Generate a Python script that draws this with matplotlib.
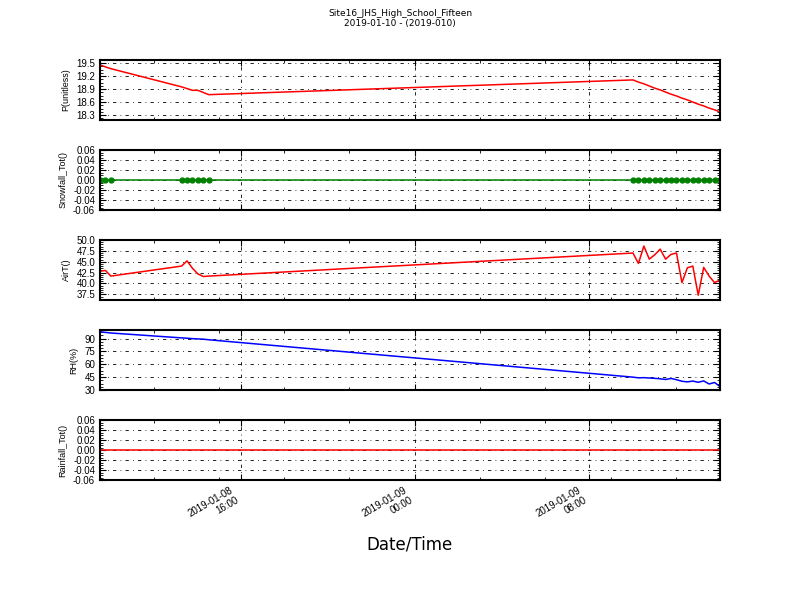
import matplotlib
matplotlib.use("Agg")
import matplotlib.pyplot as plt
import matplotlib.dates as mdates
from matplotlib.ticker import AutoMinorLocator, FormatStrFormatter
import pandas as pd

# sample times (15 min records, three bursts)
times = pd.to_datetime([
    "2019-01-08 09:32", "2019-01-08 09:47", "2019-01-08 10:02",
    "2019-01-08 13:17", "2019-01-08 13:32", "2019-01-08 13:47",
    "2019-01-08 14:02", "2019-01-08 14:17", "2019-01-08 14:32",
    "2019-01-09 10:02", "2019-01-09 10:17", "2019-01-09 10:32",
    "2019-01-09 10:47", "2019-01-09 11:02", "2019-01-09 11:17",
    "2019-01-09 11:32", "2019-01-09 11:47", "2019-01-09 12:02",
    "2019-01-09 12:17", "2019-01-09 12:32", "2019-01-09 12:47",
    "2019-01-09 13:02", "2019-01-09 13:17", "2019-01-09 13:32",
    "2019-01-09 13:47", "2019-01-09 14:02",
])

p_unitless = [19.46, 19.41, 19.37,
              18.95, 18.91, 18.87, 18.87, 18.82, 18.77,
              19.11, 19.06, 19.02, 18.97, 18.92, 18.88, 18.83, 18.78,
              18.74, 18.69, 18.65, 18.60, 18.55, 18.51, 18.46, 18.42, 18.37]
snowfall_tot = [0.0] * 26
air_t = [42.8, 43.0, 41.7,
         44.0, 45.2, 43.5, 42.2, 41.6, 41.7,
         47.0, 44.6, 48.6, 45.6, 46.6, 47.9, 45.6, 46.7,
         47.0, 40.2, 43.6, 44.0, 37.3, 43.7, 41.7, 40.2, 40.8]
rh = [98.0, 97.2, 96.5,
      90.8, 90.4, 89.9, 89.6, 89.3, 88.6,
      45.0, 44.2, 44.4, 44.0, 43.6, 43.1, 42.3, 43.5,
      42.0, 40.2, 39.5, 40.4, 39.0, 40.6, 37.0, 38.8, 34.0]
rainfall_tot = [0.0] * 26

plt.rcParams['font.family'] = ['Liberation Sans', 'DejaVu Sans']
plt.rcParams['axes.unicode_minus'] = False

fig, axes = plt.subplots(5, 1, sharex=True, figsize=(8, 6), dpi=100)
fig.subplots_adjust(left=0.125, right=0.9, top=0.9, bottom=0.2, hspace=0.5)

panels = [
    (p_unitless, "r-", "P(unitless)", (18.185, 19.57), [18.3, 18.6, 18.9, 19.2, 19.5], "%.1f"),
    (snowfall_tot, "go-", "Snowfall_Tot()", (-0.06, 0.06), [-0.06, -0.04, -0.02, 0.0, 0.02, 0.04, 0.06], "%.2f"),
    (air_t, "r-", "AirT()", (36.2, 50.0), [37.5, 40.0, 42.5, 45.0, 47.5, 50.0], "%.1f"),
    (rh, "b-", "RH(%)", (30, 100), [30, 45, 60, 75, 90], "%d"),
    (rainfall_tot, "r-", "Rainfall_Tot()", (-0.06, 0.06), [-0.06, -0.04, -0.02, 0.0, 0.02, 0.04, 0.06], "%.2f"),
]

for ax, (vals, fmt, label, ylim, yticks, yfmt) in zip(axes, panels):
    ax.plot(times, vals, fmt, lw=1.1, markersize=3.5, markeredgecolor="green")
    ax.set_ylim(*ylim)
    ax.set_yticks(yticks)
    ax.yaxis.set_major_formatter(FormatStrFormatter(yfmt))
    ax.yaxis.set_minor_locator(AutoMinorLocator())
    ax.set_ylabel(label, fontsize=6.5)
    ax.grid(True, which="major", color="black", linestyle=(0, (4, 5, 1, 5)), linewidth=0.6)
    ax.tick_params(which="both", direction="in", top=True, right=True, labelsize=7)
    ax.tick_params(which="major", length=4)
    ax.tick_params(which="minor", length=2)
    for sp in ax.spines.values():
        sp.set_linewidth(1.5)

ax = axes[-1]
ax.set_xlim(times[0], times[-1])
ax.xaxis.set_major_locator(mdates.HourLocator(byhour=[0, 8, 16]))
ax.xaxis.set_minor_locator(mdates.HourLocator(byhour=range(0, 24, 3)))
ax.xaxis.set_major_formatter(mdates.DateFormatter("%Y-%m-%d\n%H:%M"))
for lbl in ax.get_xticklabels():
    lbl.set_rotation(30)
    lbl.set_ha("right")
    lbl.set_fontsize(7)

fig.suptitle("Site16_JHS_High_School_Fifteen\n2019-01-10 - (2019-010)",
             fontsize=6.5, y=0.985, va="top", family=["Liberation Sans Narrow", "DejaVu Sans"])
fig.text(0.512, 0.093, "Date/Time", ha="center", va="center", fontsize=12,
         family=["Liberation Sans Narrow", "DejaVu Sans"])

fig.savefig("out.png", dpi=100)
